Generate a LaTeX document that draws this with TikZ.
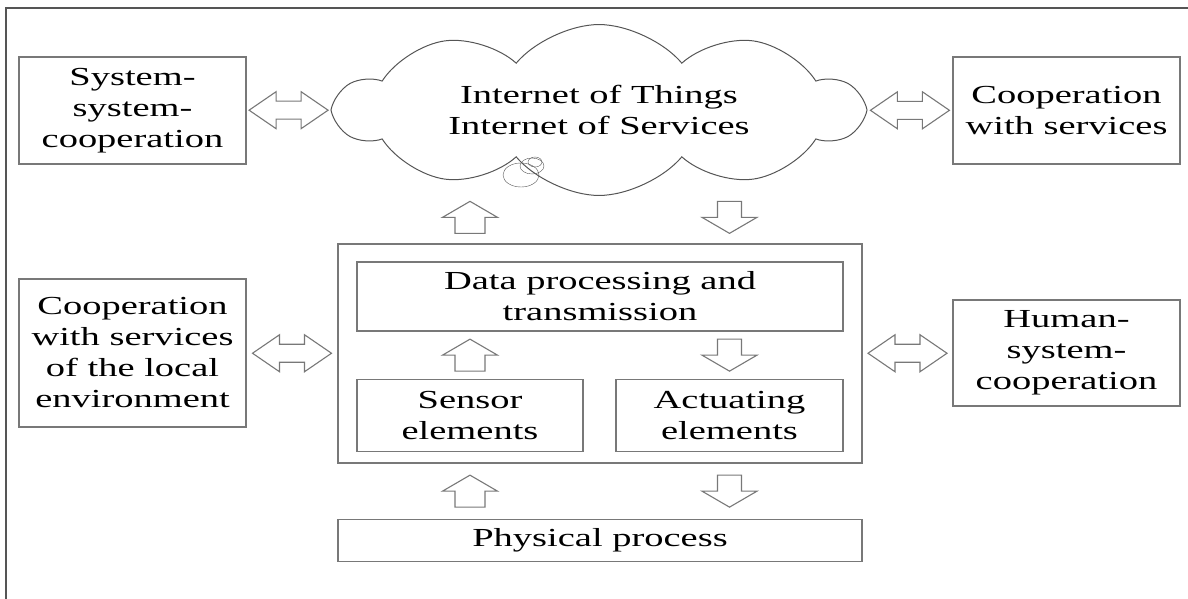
\documentclass[tikz,border=0pt]{standalone}
\usepackage{fontspec}
\usepackage{graphicx}
\setmainfont{Liberation Serif}
\newcommand{\wline}[1]{\scalebox{1.48}[1]{#1}}
\usetikzlibrary{positioning,shapes.symbols,calc}
\definecolor{boxgray}{RGB}{120,120,120}
\definecolor{linegray}{RGB}{85,85,85}

\begin{document}
\begin{tikzpicture}[
  x=1pt, y=-1pt,
  font=\fontsize{26}{31}\selectfont,
  box/.style={draw=boxgray, line width=1.3pt, align=center, inner sep=0pt},
  iotcloud/.style={draw=linegray, line width=1pt, cloud, cloud puffs=10, cloud puff arc=100,
    aspect=3.7, align=center, inner sep=0pt, minimum width=524pt, minimum height=140pt},
  blockarrow/.style={draw=boxgray, line width=1.1pt, fill=white},
  pics/dblarrow/.style={code={
    \draw[blockarrow] (-39.5,0) -- (-12.5,-18.5) -- (-12.5,-9) -- (12.5,-9) -- (12.5,-18.5)
      -- (39.5,0) -- (12.5,18.5) -- (12.5,9) -- (-12.5,9) -- (-12.5,18.5) -- cycle;}},
  pics/uparrow/.style={code={
    \draw[blockarrow] (0,-16) -- (27.5,0) -- (15,0) -- (15,16) -- (-15,16) -- (-15,0)
      -- (-27.5,0) -- cycle;}},
  pics/downarrow/.style={code={
    \draw[blockarrow] (0,16) -- (27.5,0) -- (12,0) -- (12,-16) -- (-12,-16) -- (-12,0)
      -- (-27.5,0) -- cycle;}}
]
\useasboundingbox (0,0) rectangle (1188,599);
\draw[linegray, line width=1.6pt] (6,599) -- (6,8) -- (1188,8);

% cyber-physical system
\node[box, minimum width=524pt, minimum height=219pt] (cps) at (600,353.5) {};
\node[box, minimum width=486pt, minimum height=69pt, below=18pt of cps.north] (dataproc) {\wline{Data processing and}\\\wline{transmission}};
\node[box, minimum width=226pt, minimum height=72pt, below right=47pt and 0pt of dataproc.south west] (sensor) {\wline{Sensor}\\\wline{elements}};
\node[box, minimum width=227pt, minimum height=72pt, below left=47pt and 0pt of dataproc.south east] (actuator) {\wline{Actuating}\\\wline{elements}};
\node[box, minimum width=524pt, minimum height=42pt, below=55pt of cps] (physproc) {\wline{Physical process}};

% surroundings
\node[iotcloud] (iot) at (599,110) {\wline{Internet of Things}\\\wline{Internet of Services}};
\draw[linegray] (521,175) ellipse [x radius=18pt, y radius=12pt];
\draw[linegray] (532,166) ellipse [x radius=12pt, y radius=8pt];
\draw[linegray] (535,162) ellipse [x radius=7pt, y radius=5pt];
\node[box, minimum width=227pt, minimum height=107pt] (syscoop) at (132.5,110.5) {\wline{System-}\\\wline{system-}\\\wline{cooperation}};
\node[box, minimum width=227pt, minimum height=107pt] (servcoop) at (1066.5,110.5) {\wline{Cooperation}\\\wline{with services}};
\node[box, minimum width=227pt, minimum height=148pt] (localcoop) at (132.5,353) {\wline{Cooperation}\\\wline{with services}\\\wline{of the local}\\\wline{environment}};
\node[box, minimum width=227pt, minimum height=106pt] (humancoop) at (1066.5,353) {\wline{Human-}\\\wline{system-}\\\wline{cooperation}};

% block arrows
\pic at ($(syscoop.east)!0.5!(iot.west)$) {dblarrow};
\pic at ($(iot.east)!0.5!(servcoop.west)$) {dblarrow};
\pic at ($(localcoop.east)!0.5!(cps.west)$) {dblarrow};
\pic at ($(cps.east)!0.5!(humancoop.west)$) {dblarrow};
\pic at ($(sensor.north |- cps.north)+(0,-26)$) {uparrow};
\pic at ($(actuator.north |- cps.north)+(0,-26)$) {downarrow};
\pic at ($(sensor.north)!0.5!(sensor.north |- dataproc.south)$) {uparrow};
\pic at ($(actuator.north)!0.5!(actuator.north |- dataproc.south)$) {downarrow};
\pic at ($(sensor.south |- cps.south)!0.5!(sensor.south |- physproc.north)$) {uparrow};
\pic at ($(actuator.south |- cps.south)!0.5!(actuator.south |- physproc.north)$) {downarrow};

\end{tikzpicture}
\end{document}
